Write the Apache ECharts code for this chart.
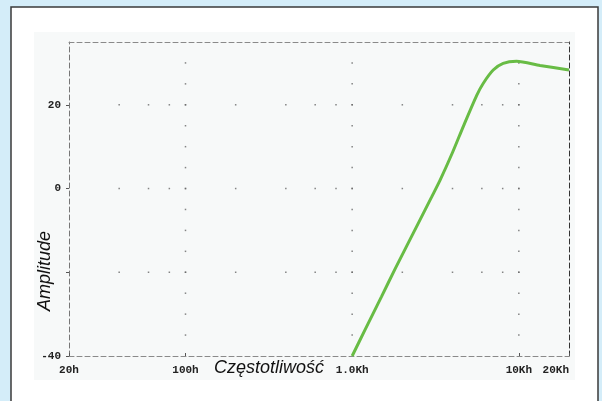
<!DOCTYPE html>
<html><head><meta charset="utf-8">
<script src="https://cdn.jsdelivr.net/npm/echarts@6/dist/echarts.min.js"></script>
<style>html,body{margin:0;padding:0;background:#d4edf9;}#c{width:602px;height:401px;}</style>
</head><body><div id="c"></div>
<script>
// Frequency response (Hz) and amplitude (dB)
const freqHz      = [1000, 1200, 1500, 1810, 2500, 3000, 3370, 4000, 4640, 5580, 6110, 7020, 8050, 9690, 13400, 20000];
const amplitudeDb = [-40, -33.6, -25.8, -19.2, -8.2, -2.0, 2.0, 8.6, 14.8, 22.2, 25.1, 28.3, 29.9, 30.4, 29.4, 28.3];

// Axis ticks / labels
const xTickValues = [20, 100, 1000, 10000, 20000];
const xTickLabels = ['20h', '100h', '1.0Kh', '10Kh', '20Kh'];
const yTickValues = [-40, -20, 0, 20];
const yLabelValues = [-40, 0, 20];

// Dotted grid positions
const gridDotFreqs = [40, 60, 80, 100, 200, 400, 600, 800, 1000, 2000, 4000, 6000, 8000, 10000];
const gridDotLevels = [-20, 0, 20];
const decadeFreqs = [100, 1000, 10000];
const decadeDotLevels = [-35, -30, -25, -20, -15, -10, -5, 0, 5, 10, 15, 20, 25, 30];

const curve = freqHz.map((f, i) => [f, amplitudeDb[i]]);
const dots = [];
gridDotLevels.forEach(l => gridDotFreqs.forEach(f => dots.push([f, l])));
decadeFreqs.forEach(f => decadeDotLevels.forEach(l => dots.push([f, l])));

const tickFont = { fontFamily: '"Liberation Mono", "DejaVu Sans Mono", monospace', fontWeight: 'bold', fontSize: 11, color: '#222' };
const dashGrey = { color: '#8a8a8a', width: 1, type: [5, 3] };

const chart = echarts.init(document.getElementById('c'), null, { renderer: 'canvas' });
chart.setOption({
  animation: false,
  backgroundColor: '#d4edf9',
  graphic: [
    { type: 'rect', z: -10, shape: { x: 11, y: 7, width: 587, height: 400 }, style: { fill: '#ffffff', stroke: '#3a3a3a', lineWidth: 1.5 } },
    { type: 'rect', z: -9, shape: { x: 34, y: 32, width: 541, height: 348 }, style: { fill: '#f7f9f9' } },
    { type: 'text', z: 10, x: 269, y: 368, style: { text: 'Częstotliwość', fontFamily: '"Liberation Sans", Arial, sans-serif', fontStyle: 'italic', fontSize: 18, fill: '#111', textAlign: 'center', textVerticalAlign: 'middle' } },
    { type: 'text', z: 10, x: 45, y: 271, rotation: Math.PI / 2, style: { text: 'Amplitude', fontFamily: '"Liberation Sans", Arial, sans-serif', fontStyle: 'italic', fontSize: 18, fill: '#111', textAlign: 'center', textVerticalAlign: 'middle' } }
  ],
  grid: { left: 69, right: 33, top: 42, bottom: 45, containLabel: false },
  xAxis: [
    {
      type: 'log', logBase: 10, min: 20, max: 20000, position: 'bottom',
      axisLine: { show: true, onZero: false, lineStyle: dashGrey },
      axisTick: { show: true, inside: true, length: 3, lineStyle: { color: '#555' } },
      splitLine: { show: false },
      axisLabel: {
        show: true, margin: 9, ...tickFont, alignMaxLabel: 'right',
        formatter: v => { const i = xTickValues.indexOf(Math.round(v)); return i >= 0 ? xTickLabels[i] : ''; }
      }
    },
    {
      type: 'log', logBase: 10, min: 20, max: 20000, position: 'top',
      axisLine: { show: true, onZero: false, lineStyle: dashGrey },
      axisTick: { show: false }, axisLabel: { show: false }, splitLine: { show: false }
    }
  ],
  yAxis: [
    {
      type: 'value', min: -40, max: 35, interval: 20, position: 'left',
      axisLine: { show: true, onZero: false, lineStyle: { color: '#777', width: 1, type: [5, 3] } },
      axisTick: { show: true, length: 3, customValues: yTickValues, lineStyle: { color: '#555' } },
      splitLine: { show: false },
      axisLabel: { show: true, margin: 8, ...tickFont, customValues: yLabelValues, formatter: v => String(v) }
    },
    {
      type: 'value', min: -40, max: 35, interval: 20, position: 'right',
      axisLine: { show: true, onZero: false, lineStyle: { color: '#333', width: 1, type: [5, 3] } },
      axisTick: { show: false }, axisLabel: { show: false }, splitLine: { show: false }
    }
  ],
  series: [
    {
      type: 'scatter', xAxisIndex: 0, yAxisIndex: 0, data: dots, symbol: 'rect', symbolSize: 1.5,
      itemStyle: { color: '#666' }, silent: true, z: 1
    },
    {
      type: 'line', xAxisIndex: 0, yAxisIndex: 0, data: curve, showSymbol: false, smooth: 0.25,
      lineStyle: { color: '#68bc45', width: 3 }, z: 5
    }
  ]
});
</script>
</body></html>
